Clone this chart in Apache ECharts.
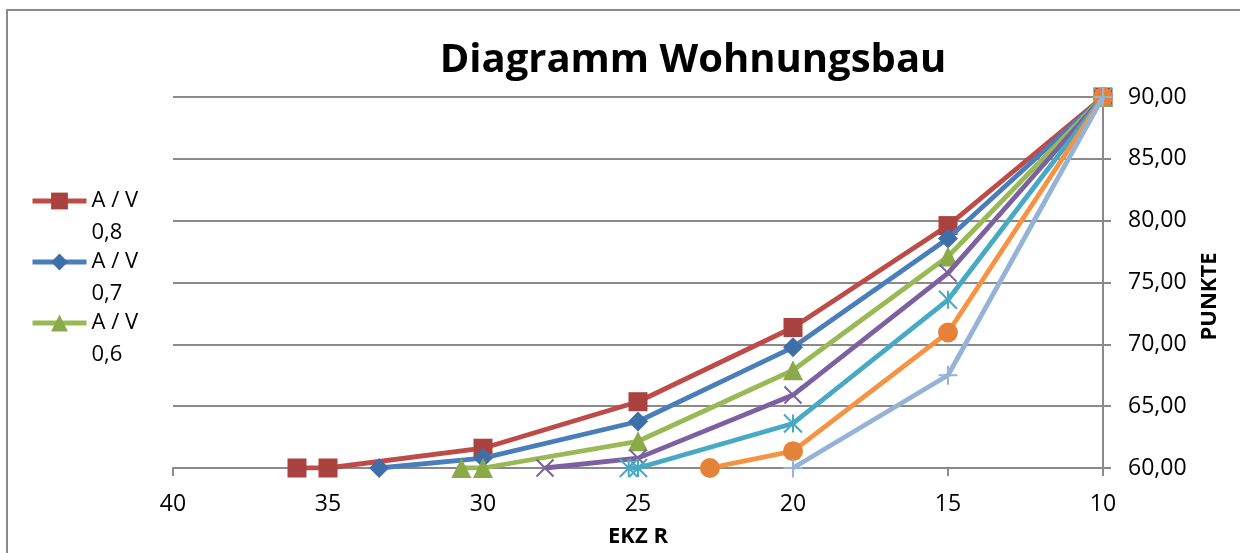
<!DOCTYPE html>
<html>
<head>
<meta charset="utf-8">
<script src="https://cdn.jsdelivr.net/npm/echarts@6/dist/echarts.min.js"></script>
<style>
html,body{margin:0;padding:0;background:#fff;}
#chart{width:1240px;height:553px;}
</style>
</head>
<body>
<div id="chart"></div>
<script>
// ---- data ----
const seriesNames = ['A / V 0,8', 'A / V 0,7', 'A / V 0,6', 'A / V 0,5', 'A / V 0,4', 'A / V 0,3', 'A / V 0,2'];
const legendNames = ['A / V 0,8', 'A / V 0,7', 'A / V 0,6'];

const ekz08 = [36, 35, 30, 25, 20, 15, 10];
const pkt08 = [60, 60, 61.6, 65.36, 71.36, 79.6, 90];

const ekz07 = [33.35, 30, 25, 20, 15, 10];
const pkt07 = [60, 60.8, 63.76, 69.76, 78.56, 90];

const ekz06 = [30.7, 30, 25, 20, 15, 10];
const pkt06 = [60, 60, 62.16, 67.9, 77.1, 90];

const ekz05 = [28, 25, 20, 15, 10];
const pkt05 = [60, 60.8, 65.9, 75.76, 90];

const ekz04 = [25.3, 25, 20, 15, 10];
const pkt04 = [60, 60, 63.6, 73.6, 90];

const ekz03 = [22.68, 20, 15, 10];
const pkt03 = [60, 61.36, 70.96, 90];

const ekz02 = [20, 15, 10];
const pkt02 = [60, 67.5, 90];

const xTicks = [40, 35, 30, 25, 20, 15, 10];
const yTicks = [60, 65, 70, 75, 80, 85, 90];

// ---- styling ----
const FONT = 'Open Sans';
const colors = ['#BE4B48', '#4A7EBB', '#98B954', '#7D60A0', '#46AAC5', '#F69240', '#95B3D7'];
const markerColors = ['#AA423F', '#3E6FA9', '#8AAA4A', '#7D60A0', '#46AAC5', '#E5823A', '#95B3D7'];
const symbols = ['rect', 'diamond', 'triangle',
  'path://M0,0L10,10M10,0L0,10',
  'path://M0,0L10,10M10,0L0,10M5,0L5,10',
  'circle',
  'path://M5,0L5,10M0,5L10,5'];
const symbolSizes = [19, 20, 20, 17, 18, 20, 19];
const strokeOnly = [false, false, false, true, true, false, true];

const xsAll = [ekz08, ekz07, ekz06, ekz05, ekz04, ekz03, ekz02];
const ysAll = [pkt08, pkt07, pkt06, pkt05, pkt04, pkt03, pkt02];

const series = seriesNames.map((name, i) => ({
  name: name,
  type: 'line',
  data: xsAll[i].map((x, j) => [x, ysAll[i][j]]),
  symbol: symbols[i],
  symbolSize: symbolSizes[i],
  showAllSymbol: true,
  lineStyle: { color: colors[i], width: 4.8 },
  itemStyle: strokeOnly[i]
    ? { color: 'rgba(0,0,0,0)', borderColor: markerColors[i], borderWidth: 2 }
    : { color: markerColors[i], borderWidth: 0 },
  emphasis: { disabled: true },
  z: 2 + i
}));

const chart = echarts.init(document.getElementById('chart'), null, { renderer: 'canvas' });
chart.setOption({
  animation: false,
  backgroundColor: '#fff',
  textStyle: { fontFamily: FONT },
  title: {
    text: 'Diagramm Wohnungsbau',
    left: 688,
    textAlign: 'center',
    top: 36,
    textStyle: { fontFamily: FONT, fontWeight: 'bold', fontSize: 40, color: '#000' }
  },
  graphic: [{
    type: 'rect',
    shape: { x: 7, y: 10, width: 1400, height: 800 },
    style: { fill: 'none', stroke: '#8A8A8A', lineWidth: 2 },
    silent: true, z: -1
  }],
  legend: {
    data: legendNames,
    orient: 'vertical',
    left: 30,
    top: 153,
    padding: 0,
    itemWidth: 54,
    itemHeight: 21,
    itemGap: -35,
    selectedMode: false,
    lineStyle: { width: 5 },
    formatter: n => '\n' + n.replace(' 0,', '\n0,'),
    textStyle: { fontFamily: FONT, fontSize: 22, lineHeight: 32, color: '#000' }
  },
  grid: { left: 173, right: 137, top: 97, bottom: 80, containLabel: false },
  xAxis: {
    type: 'value',
    min: 10, max: 40, interval: 5,
    inverse: true,
    position: 'bottom',
    axisLine: { show: true, onZero: false, lineStyle: { color: '#8A8A8A', width: 2 } },
    axisTick: { show: true, length: 8, lineStyle: { color: '#8A8A8A', width: 2 } },
    splitLine: { show: false },
    axisLabel: { color: '#000', fontFamily: FONT, fontSize: 23, margin: 25 },
    name: 'EKZ R',
    nameLocation: 'middle',
    nameGap: 58,
    nameTextStyle: { fontFamily: FONT, fontWeight: 'bold', fontSize: 22, color: '#000' }
  },
  yAxis: {
    type: 'value',
    min: 60, max: 90, interval: 5,
    position: 'right',
    axisLine: { show: true, lineStyle: { color: '#8A8A8A', width: 2 } },
    axisTick: { show: true, length: 8, lineStyle: { color: '#8A8A8A', width: 2 } },
    splitLine: { show: true, lineStyle: { color: '#8A8A8A', width: 2 } },
    axisLabel: {
      color: '#000', fontFamily: FONT, fontSize: 23, margin: 25,
      formatter: v => v.toFixed(2).replace('.', ',')
    },
    name: 'PUNKTE',
    nameLocation: 'middle',
    nameRotate: 90,
    nameGap: 96,
    nameTextStyle: { fontFamily: FONT, fontWeight: 'bold', fontSize: 22, color: '#000', padding: [0, 28, 0, 0] }
  },
  series: series
});
</script>
</body>
</html>
